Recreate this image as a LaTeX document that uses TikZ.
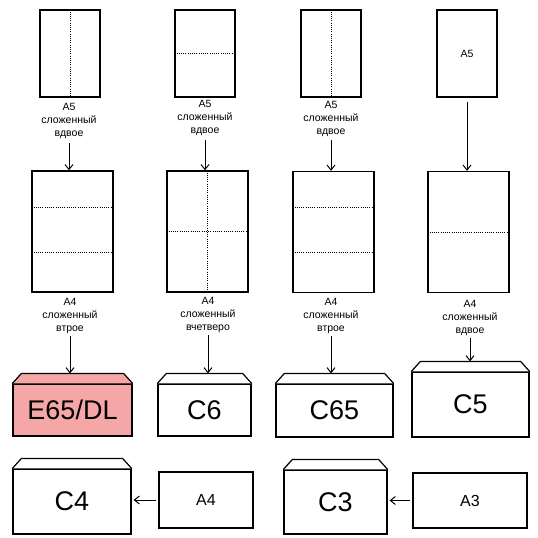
\documentclass[tikz,border=0pt]{standalone}
\usepackage{fontspec}
\setmainfont{Liberation Sans}
\usetikzlibrary{arrows.meta,calc}

\definecolor{envpink}{RGB}{245,166,166}

\tikzset{
  sheet/.style={draw, line width=1.4pt, minimum width=60pt, minimum height=87pt, inner sep=0pt, font=\fontsize{10.5}{12}\selectfont},
  bigsheet/.style={sheet, minimum width=81pt, minimum height=121pt},
  fold/.style={dash pattern=on 1pt off 1.2pt, line width=1pt},
  lbl/.style={align=center, inner sep=1pt, font=\fontsize{10.5}{13}\selectfont},
  env/.style={draw, line width=1.2pt, inner sep=0pt, font=\fontsize{27}{27}\selectfont},
  paper/.style={draw, line width=1.2pt, inner sep=0pt, font=\fontsize{16}{16}\selectfont},
  arr/.style={-{Straight Barb[length=5pt,width=8pt]}, line width=1pt}
}

% flap of an envelope on top of its body node
\newcommand{\flap}[2][white]{%
  \filldraw[fill=#1, line width=1.2pt] (#2.north west) -- ++(9,-10) -- ($(#2.north east)+(-9,-10)$) -- (#2.north east);
  \coordinate (#2top) at ($(#2.north)+(0,-10)$);
}

\begin{document}
\begin{tikzpicture}[x=1pt, y=-1pt]
  \useasboundingbox (0,0) rectangle (538,538);

  % --- A5 sheets (top row)
  \node[sheet] (s1) at (70,53.5) {};
  \node[sheet] (s2) at (205,53.5) {};
  \node[sheet] (s3) at (331,53.5) {};
  \node[sheet] (s4) at (467,53.5) {A5};

  \draw[fold] (s1.north) -- (s1.south);
  \draw[fold] (s2.west) -- (s2.east);
  \draw[fold] (s3.north) -- (s3.south);

  \node[lbl] (l1) at (69,121) {A5\\сложенный\\вдвое};
  \node[lbl] (l2) at (205,118) {A5\\сложенный\\вдвое};
  \node[lbl] (l3) at (331,118.5) {A5\\сложенный\\вдвое};

  % --- A4 sheets (middle row)
  \node[bigsheet] (m1) at (72.5,231.5) {};
  \node[bigsheet] (m2) at (207.5,231.5) {};
  \node[bigsheet] (m3) at (333.5,232) {};
  \node[bigsheet] (m4) at (468.5,232) {};

  \draw[fold] ($(m1.north west)!0.3!(m1.south west)$) -- ($(m1.north east)!0.3!(m1.south east)$);
  \draw[fold] ($(m1.north west)!0.67!(m1.south west)$) -- ($(m1.north east)!0.67!(m1.south east)$);
  \draw[fold] (m2.north) -- (m2.south);
  \draw[fold] (m2.west) -- (m2.east);
  \draw[fold] ($(m3.north west)!0.3!(m3.south west)$) -- ($(m3.north east)!0.3!(m3.south east)$);
  \draw[fold] ($(m3.north west)!0.67!(m3.south west)$) -- ($(m3.north east)!0.67!(m3.south east)$);
  \draw[fold] (m4.west) -- (m4.east);

  \node[lbl] (n1) at (70,315.5) {A4\\сложенный\\втрое};
  \node[lbl] (n2) at (208,314.5) {A4\\сложенный\\вчетверо};
  \node[lbl] (n3) at (331,315.5) {A4\\сложенный\\втрое};
  \node[lbl] (n4) at (470,317.5) {A4\\сложенный\\вдвое};

  % --- envelopes
  \node[env, fill=envpink, minimum width=119pt, minimum height=52pt] (e65) at (72.5,410) {E65/DL};
  \node[env, minimum width=93pt, minimum height=52pt] (c6) at (204.5,410) {C6};
  \node[env, minimum width=117pt, minimum height=53pt] (c65) at (334.5,410.5) {C65};
  \node[env, minimum width=117pt, minimum height=65pt] (c5) at (470.5,404.5) {C5};
  \node[env, minimum width=118pt, minimum height=65pt] (c4) at (72,501.5) {C4};
  \node[env, minimum width=103pt, minimum height=64pt] (c3) at (335.5,502) {C3};

  \flap[envpink]{e65}
  \flap{c6}
  \flap{c65}
  \flap{c5}
  \flap{c4}
  \flap{c3}

  % --- flat sheets into large envelopes
  \node[paper, minimum width=94pt, minimum height=56pt] (a4) at (206,500) {A4};
  \node[paper, minimum width=114pt, minimum height=55pt] (a3) at (470,500.5) {A3};

  % --- arrows
  \draw[arr] ([yshift=-3pt]l1.south) -- (l1.south |- m1.north);
  \draw[arr] ([yshift=-3pt]l2.south) -- (l2.south |- m2.north);
  \draw[arr] ([yshift=-3pt]l3.south) -- (l3.south |- m3.north);
  \draw[arr] ([yshift=-4pt]s4.south) -- (s4.south |- m4.north);

  \draw[arr] ([yshift=-2pt]n1.south) -- (n1.south |- e65top);
  \draw[arr] ([yshift=-2pt]n2.south) -- (n2.south |- c6top);
  \draw[arr] ([yshift=-2pt]n3.south) -- (n3.south |- c65top);
  \draw[arr] ([yshift=-2pt]n4.south) -- (n4.south |- c5top);

  \draw[arr] ([xshift=-2pt]a4.west) -- ([xshift=2pt]c4.east |- a4.west);
  \draw[arr] ([xshift=-2pt]a3.west) -- ([xshift=2pt]c3.east |- a3.west);
\end{tikzpicture}
\end{document}
